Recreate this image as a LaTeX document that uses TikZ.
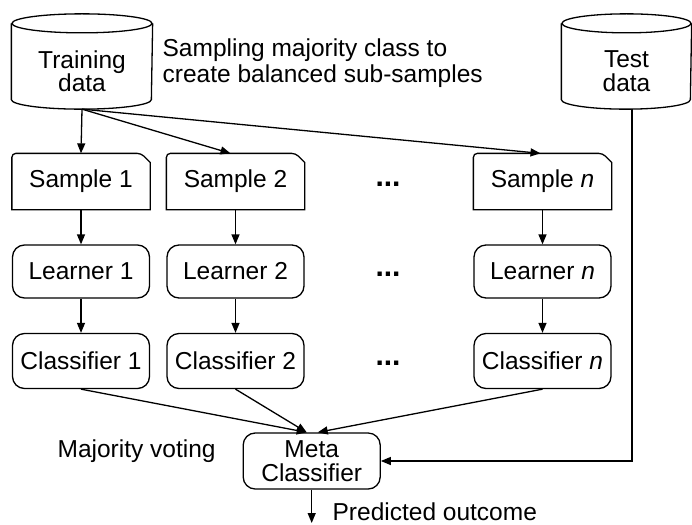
\documentclass[tikz,border=0pt]{standalone}
\usepackage{fontspec}
\setmainfont{Liberation Sans}
\usetikzlibrary{arrows.meta,calc}
\begin{document}
\begin{tikzpicture}[x=1pt,y=-1pt,line width=1.3pt,
  every node/.style={font=\fontsize{24.5}{24.5}\selectfont, inner sep=0pt},
  rbox/.style={draw, rounded corners=12pt, minimum width=137pt, minimum height=55pt, align=center},
  sbox/.style={minimum width=137pt, minimum height=55pt, align=center},
  dbbody/.style={minimum height=75pt, align=center},
  lbl/.style={anchor=west, align=left},
  gap/.style={font=\fontsize{30}{30}\selectfont\bfseries},
  arr/.style={-{Triangle[length=10pt,width=8pt]}}
]
\useasboundingbox (0,0) rectangle (692,524);

% storage cylinders: the node is the body below the top lid
\newcommand{\cylinderaround}[2]{%
  \draw ([yshift=9.5pt]#1.north) ellipse [x radius=#2, y radius=9.5pt];
  \draw ([yshift=9.5pt]#1.north west) -- ([yshift=9.5pt]#1.south west)
    arc [start angle=180, end angle=360, x radius=#2, y radius=9.5pt]
    -- ([yshift=9.5pt]#1.north east);}
% sample boxes with a clipped top-right corner
\newcommand{\samplearound}[1]{%
  \draw (#1.south west) [rounded corners=4pt] -- (#1.north west)
    -- ([xshift=-9pt]#1.north east) [sharp corners]
    -- ([yshift=-9pt]#1.north east) -- (#1.south east) -- cycle;}

\node[dbbody, minimum width=140pt, font=\fontsize{24.5}{23}\selectfont] (train) at (82,71) {Training\\data};
\node[dbbody, minimum width=129pt] (test) at (626.5,71) {Test\\data};
\cylinderaround{train}{70pt}
\cylinderaround{test}{64.5pt}

\node[lbl, font=\fontsize{24.5}{25.5}\selectfont] (note) at (162,63) {Sampling majority class to\\create balanced sub-samples};

% samples
\node[sbox] (s1) at (81,181.5) {Sample 1};
\node[sbox] (s2) at (235.5,181.5) {Sample 2};
\node[sbox] (sn) at (542.5,181.5) {Sample \textit{n}};
\samplearound{s1}
\samplearound{s2}
\samplearound{sn}

% learners
\node[rbox, minimum height=53pt] (l1) at (81,271.5) {Learner 1};
\node[rbox, minimum height=53pt] (l2) at (235.5,271.5) {Learner 2};
\node[rbox, minimum height=53pt] (ln) at (542.5,271.5) {Learner \textit{n}};

% classifiers
\node[rbox] (c1) at (81,361) {Classifier 1};
\node[rbox] (c2) at (235.5,361) {Classifier 2};
\node[rbox] (cn) at (542.5,361) {Classifier \textit{n}};

% gaps between the numbered columns
\node[gap] (g1) at (388,184) {...};
\node[gap] (g2) at (388,274) {...};
\node[gap] (g3) at (388,363) {...};

\node[rbox, minimum height=56pt] (meta) at (311.7,461) {Meta\\Classifier};
\node[anchor=base west] (vote) at (57,457) {Majority voting};
\node[anchor=base west] (pred) at (332,520) {Predicted outcome};
\coordinate (out) at (311.7,523);

% connectors
\draw[arr] (train.south) -- (s1.north);
\draw[arr] (train.south) -- ([xshift=-5pt]s2.north);
\draw[arr] (train.south) -- ([xshift=-2pt]sn.north);
\draw[arr] (s1) -- (l1);
\draw[arr] (s2) -- (l2);
\draw[arr] (sn) -- (ln);
\draw[arr] (l1) -- (c1);
\draw[arr] (l2) -- (c2);
\draw[arr] (ln) -- (cn);
\draw[arr] (c1.south) -- ([xshift=-5pt]meta.north);
\draw[arr] (c2.south) -- ([xshift=-5pt]meta.north);
\draw[arr] (cn.south) -- ([xshift=6pt]meta.north);
\draw[arr] ([xshift=5.5pt]test.south) |- (meta.east);
\draw[arr] (meta.south) -- (out);
\end{tikzpicture}
\end{document}
